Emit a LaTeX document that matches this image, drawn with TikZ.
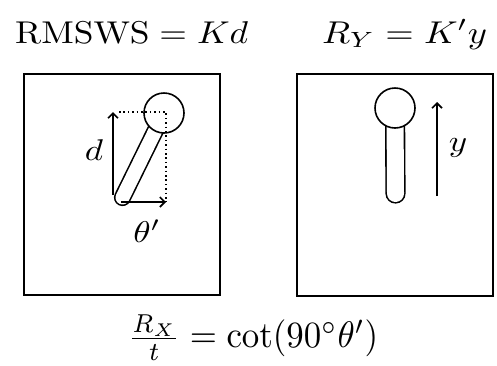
\documentclass[tikz,border=0pt]{standalone}
\usepackage{amsmath}
\usepackage{graphicx}
\usetikzlibrary{arrows.meta}
\newcommand{\labbox}[1]{\scalebox{3.5}[3.0]{$#1$}}
\begin{document}
\begin{tikzpicture}[x=1pt,y=-1pt,
  frame/.style={draw,line width=1.7pt,inner sep=0pt,anchor=north west},
  head/.style={draw,circle,fill=white,line width=1.6pt,minimum size=40pt,inner sep=0pt},
  stick/.style={line width=1.6pt,double=white,double distance=14pt,line cap=round},
  arr/.style={line width=1.6pt,-{Straight Barb[length=5pt,width=10pt,line width=1.6pt]}},
  dots/.style={line width=1.6pt,dash pattern=on 1.6pt off 2.8pt},
  eq/.style={inner sep=0pt,anchor=base west},
  lab/.style={inner sep=0pt,anchor=base}]
\useasboundingbox (0,0) rectangle (497,365);
% titles
\node[eq] (t1) at (15,43) {\resizebox{233pt}{\height}{\scalebox{3.15}{$\mathrm{RMSWS}=Kd$}}};
\node[eq] (t2) at (322,43) {\resizebox{165pt}{\height}{\scalebox{3.15}{$R_Y=K'y$}}};
\node[eq] (t3) at (128,347.5) {\resizebox{250pt}{\height}{\scalebox{3.7}{$\frac{R_X}{t}=\cot(90^\circ\theta')$}}};
% boxes
\node[frame,minimum width=196pt,minimum height=221pt] (lbox) at (23,73) {};
\node[frame,minimum width=196pt,minimum height=222pt] (rbox) at (296,73) {};
% left figure
\coordinate (lbase) at (122.5,197.5);
\coordinate (lctr) at (164,113);
\draw[stick] (lbase) -- (lctr);
\node[head] (lhead) at (lctr) {};
\coordinate (dtail) at (113,195);
\coordinate (dtip) at (113,112);
\coordinate (dotstart) at (119,112);
\coordinate (corner) at (166,112);
\coordinate (htail) at (121,202);
\coordinate (htip) at (166,202);
\draw[dots] (dotstart) -- (corner) -- (htip);
\draw[arr] (dtail) -- (dtip);
\draw[arr] (htail) -- (htip);
\node[lab] (dlab) at (94,160) {\labbox{d}};
\node[lab] (thlab) at (147,242) {\labbox{\theta'}};
% right figure
\coordinate (rbase) at (395.5,193.5);
\coordinate (rctr) at (395,108);
\draw[stick,double distance=17pt] (rbase) -- (rctr);
\node[head] (rhead) at (rctr) {};
\coordinate (ytail) at (437,196);
\coordinate (ytip) at (437,102);
\draw[arr] (ytail) -- (ytip);
\node[lab] (ylab) at (458,151) {\labbox{y}};
\end{tikzpicture}
\end{document}
